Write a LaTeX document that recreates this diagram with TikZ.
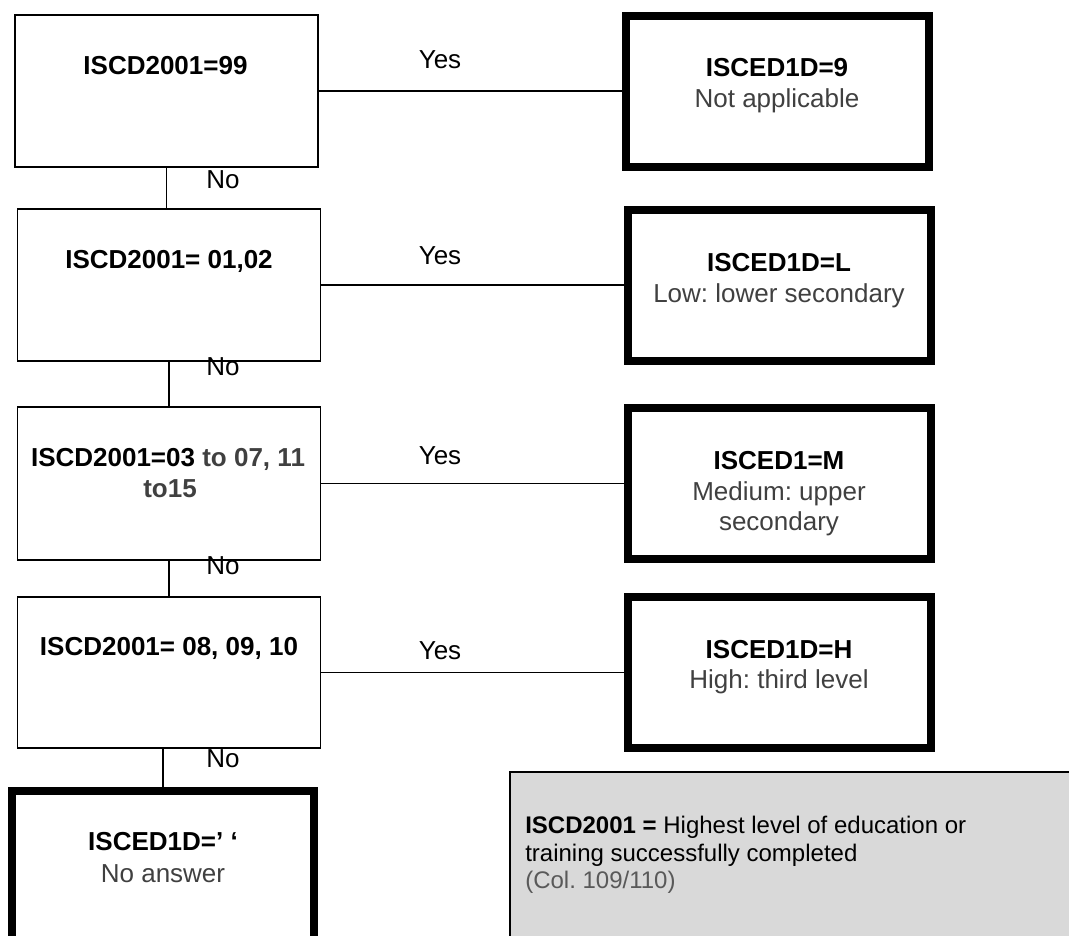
\documentclass[tikz,border=0pt]{standalone}
\usepackage{fontspec}
\setmainfont{Liberation Sans}
\definecolor{txtgray}{HTML}{404040}
\definecolor{colgray}{HTML}{595959}
\definecolor{boxgray}{HTML}{D9D9D9}
\begin{document}
\frenchspacing
\begin{tikzpicture}[x=0.75pt,y=-0.75pt,
  qbox/.style={draw=black, line width=1pt, inner sep=0pt, minimum width=227.25pt, minimum height=114pt},
  abox/.style={draw=black, line width=6pt, inner sep=0pt, minimum width=227.25pt, minimum height=113.25pt},
  txt/.style={inner sep=0pt, anchor=base, font=\fontsize{19.5}{23}\selectfont},
  btxt/.style={inner sep=0pt, anchor=base, font=\fontsize{19.5}{23}\selectfont\bfseries},
  gtxt/.style={txt, text=txtgray},
  ntxt/.style={inner sep=0pt, anchor=base west, font=\fontsize{18}{21}\selectfont},
  conn/.style={line width=1pt}]
\useasboundingbox (0,0) rectangle (1069,935);
\clip (0,0) rectangle (1069,935);

% question boxes
\node[qbox] (q1) at (166.5,91) {};
\node[qbox] (q2) at (169,285) {};
\node[qbox, minimum height=114.75pt] (q3) at (169,483.5) {};
\node[qbox, minimum height=113.25pt] (q4) at (169,672.5) {};

% answer boxes
\node[abox] (a1) at (777.5,91.5) {};
\node[abox] (a2) at (779.5,285.5) {};
\node[abox] (a3) at (779.5,483.5) {};
\node[abox] (a4) at (779.5,672.5) {};
\node[abox, minimum width=226.5pt, minimum height=126.75pt] (a5) at (163,875.5) {};

% note box
\node[draw=black, line width=1pt, fill=boxgray, inner sep=0pt, minimum width=427.5pt, minimum height=133.5pt] (note) at (795,861) {};

% connectors
\draw[conn] (q1.south) -- (q1.south |- q2.north);
\draw[conn] (q2.south) -- (q2.south |- q3.north);
\draw[conn] (q3.south) -- (q3.south |- q4.north);
\draw[conn] (a5.north) -- (a5.north |- q4.south);
\draw[conn] (q1.east) -- (q1.east -| a1.west);
\draw[conn] (q2.east) -- (q2.east -| a2.west);
\draw[conn] (q3.east) -- (q3.east -| a3.west);
\draw[conn] (q4.east) -- (q4.east -| a4.west);

% question texts
\node[btxt] (t1) at (165.5,74) {ISCD2001=99};
\node[btxt] (t2) at (169,268) {ISCD2001= 01,02};
\node[btxt] (t3a) at (168,466) {ISCD2001=03 {\color{txtgray}to 07, 11}};
\node[btxt, text=txtgray] (t3b) at (170,497) {to15};
\node[btxt] (t4) at (169,655) {ISCD2001= 08, 09, 10};

% answer texts
\node[btxt] (r1a) at (777,76) {ISCED1D=9};
\node[gtxt] (r1b) at (777,107) {Not applicable};
\node[btxt] (r2a) at (779,271) {ISCED1D=L};
\node[gtxt] (r2b) at (779,302) {Low: lower secondary};
\node[btxt] (r3a) at (779,469) {ISCED1=M};
\node[gtxt] (r3b) at (779,500) {Medium: upper};
\node[gtxt] (r3c) at (779,530) {secondary};
\node[btxt] (r4a) at (779,658) {ISCED1D=H};
\node[gtxt] (r4b) at (779,688) {High: third level};
\node[btxt] (r5a) at (163,850) {ISCED1D=’ ‘};
\node[gtxt] (r5b) at (163,882) {No answer};

% yes / no labels
\node[txt] (y1) at (440,68) {Yes};
\node[txt] (y2) at (440,264) {Yes};
\node[txt] (y3) at (440,464) {Yes};
\node[txt] (y4) at (440,659) {Yes};
\node[txt] (n1) at (223,188) {No};
\node[txt] (n2) at (223,375) {No};
\node[txt] (n3) at (223,574) {No};
\node[txt] (n4) at (223,767) {No};

% note text
\node[ntxt] (nt1) at (525,833) {\textbf{ISCD2001 =} Highest level of education or};
\node[ntxt] (nt2) at (525,861) {training successfully completed};
\node[ntxt, text=colgray] (nt3) at (525,888) {(Col. 109/110)};
\end{tikzpicture}
\end{document}
